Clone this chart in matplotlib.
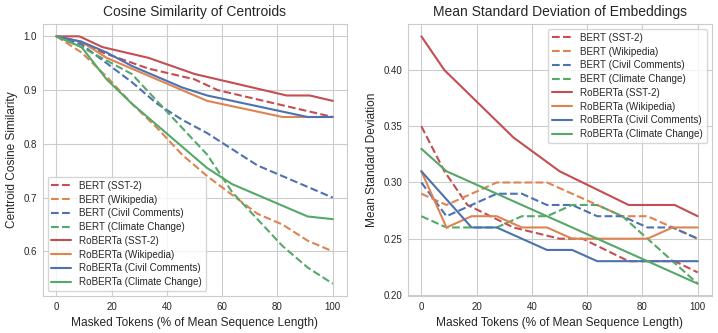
import matplotlib
matplotlib.use("Agg")
import matplotlib.pyplot as plt
import seaborn as sns

sns.set_style("whitegrid")
plt.rcParams["font.family"] = ["Liberation Sans", "DejaVu Sans"]

# masked tokens as % of mean sequence length
x_sst2 = [0, 8.33, 16.67, 25, 33.33, 41.67, 50, 58.33, 66.67, 75, 83.33, 91.67, 100]
x_other = [0, 9.09, 18.18, 27.27, 36.36, 45.45, 54.55, 63.64, 72.73, 81.82, 90.91, 100]

# cosine similarity of centroids
bert_sst2_cos = [1.0, 0.99, 0.97, 0.955, 0.94, 0.93, 0.92, 0.90, 0.89, 0.88, 0.87, 0.86, 0.85]
bert_wiki_cos = [1.0, 0.97, 0.925, 0.875, 0.83, 0.78, 0.74, 0.705, 0.67, 0.65, 0.62, 0.60]
bert_civil_cos = [1.0, 0.985, 0.95, 0.915, 0.875, 0.845, 0.82, 0.79, 0.76, 0.74, 0.72, 0.70]
bert_climate_cos = [1.0, 0.98, 0.955, 0.93, 0.88, 0.83, 0.78, 0.71, 0.66, 0.61, 0.57, 0.54]
rob_sst2_cos = [1.0, 1.0, 0.98, 0.97, 0.96, 0.945, 0.93, 0.92, 0.91, 0.90, 0.89, 0.89, 0.88]
rob_wiki_cos = [1.0, 0.99, 0.96, 0.94, 0.92, 0.90, 0.88, 0.87, 0.86, 0.85, 0.85, 0.85]
rob_civil_cos = [1.0, 0.99, 0.97, 0.945, 0.925, 0.905, 0.89, 0.88, 0.87, 0.86, 0.85, 0.85]
rob_climate_cos = [1.0, 0.98, 0.92, 0.875, 0.835, 0.795, 0.755, 0.725, 0.705, 0.685, 0.665, 0.66]

# mean standard deviation of embeddings
bert_sst2_std = [0.35, 0.31, 0.28, 0.27, 0.26, 0.255, 0.25, 0.25, 0.24, 0.23, 0.23, 0.23, 0.22]
bert_wiki_std = [0.29, 0.28, 0.29, 0.30, 0.30, 0.30, 0.29, 0.28, 0.27, 0.27, 0.26, 0.25]
bert_civil_std = [0.30, 0.27, 0.28, 0.29, 0.29, 0.28, 0.28, 0.27, 0.27, 0.26, 0.26, 0.25]
bert_climate_std = [0.27, 0.26, 0.26, 0.26, 0.27, 0.27, 0.28, 0.28, 0.27, 0.25, 0.23, 0.21]
rob_sst2_std = [0.43, 0.40, 0.38, 0.36, 0.34, 0.325, 0.31, 0.30, 0.29, 0.28, 0.28, 0.28, 0.27]
rob_wiki_std = [0.31, 0.26, 0.27, 0.27, 0.26, 0.26, 0.25, 0.25, 0.25, 0.25, 0.26, 0.26]
rob_civil_std = [0.31, 0.285, 0.26, 0.26, 0.25, 0.24, 0.24, 0.23, 0.23, 0.23, 0.23, 0.23]
rob_climate_std = [0.33, 0.31, 0.30, 0.29, 0.28, 0.27, 0.26, 0.25, 0.24, 0.23, 0.22, 0.21]

datasets = ["SST-2", "Wikipedia", "Civil Comments", "Climate Change"]
x_by_dataset = [x_sst2, x_other, x_other, x_other]
pal = sns.color_palette("deep")
colors = [pal[3], pal[1], pal[0], pal[2]]

cos_series = {"BERT": [bert_sst2_cos, bert_wiki_cos, bert_civil_cos, bert_climate_cos],
              "RoBERTa": [rob_sst2_cos, rob_wiki_cos, rob_civil_cos, rob_climate_cos]}
std_series = {"BERT": [bert_sst2_std, bert_wiki_std, bert_civil_std, bert_climate_std],
              "RoBERTa": [rob_sst2_std, rob_wiki_std, rob_civil_std, rob_climate_std]}
styles = {"BERT": "--", "RoBERTa": "-"}

fig = plt.figure(figsize=(7.18, 3.33), dpi=100)
ax1 = fig.add_axes([0.0593, 0.111, 0.4234, 0.817])
ax2 = fig.add_axes([0.5676, 0.111, 0.4234, 0.817])

for ax, series in [(ax1, cos_series), (ax2, std_series)]:
    for model in ["BERT", "RoBERTa"]:
        for name, xs, ys, c in zip(datasets, x_by_dataset, series[model], colors):
            ax.plot(xs, ys, styles[model], color=c, lw=1.5, label=f"{model} ({name})")
    ax.tick_params(labelsize=7, colors=".15", length=0, pad=4)
    ax.set_xlabel("Masked Tokens (% of Mean Sequence Length)", fontsize=8.6, color=".15")
    for s in ax.spines.values():
        s.set_color(".8")

ax1.set_title("Cosine Similarity of Centroids", fontsize=10, color=".15")
ax1.set_ylabel("Centroid Cosine Similarity", fontsize=8.6, color=".15")
ax1.legend(loc="lower left", fontsize=7.1, frameon=True, labelspacing=0.38)

ax2.set_title("Mean Standard Deviation of Embeddings", fontsize=10, color=".15")
ax2.set_ylabel("Mean Standard Deviation", fontsize=8.6, color=".15")
ax2.legend(loc="upper right", fontsize=7.1, frameon=True, labelspacing=0.38)

fig.savefig("out.png", dpi=100)
